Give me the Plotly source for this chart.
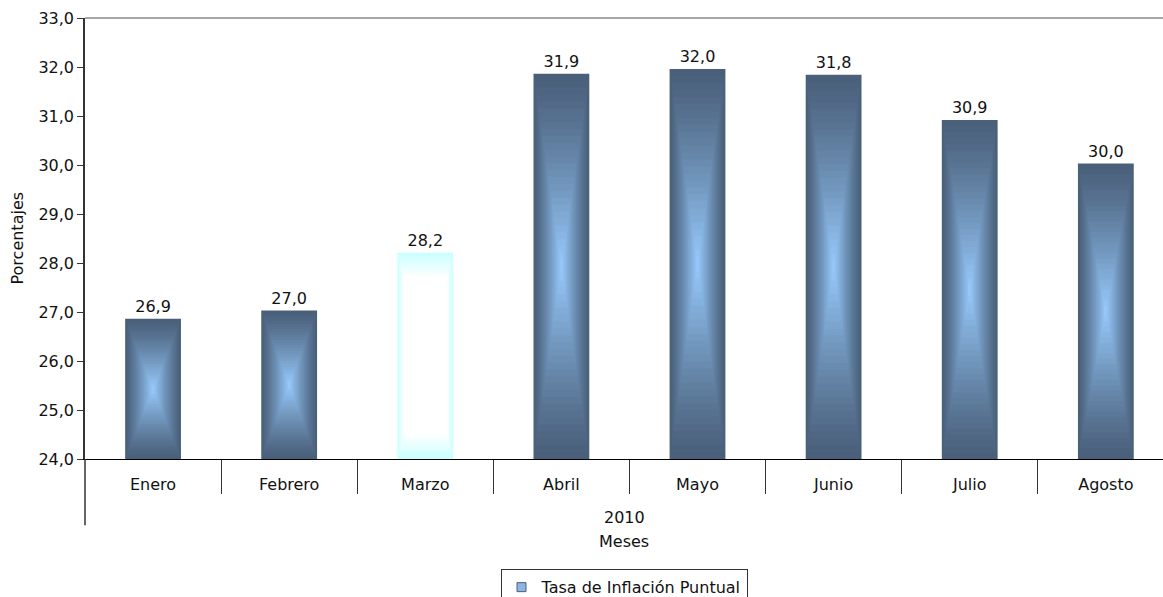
import plotly.graph_objects as go

# ---- data ----
months = ["Enero", "Febrero", "Marzo", "Abril", "Mayo", "Junio", "Julio", "Agosto"]
values = [26.86, 27.03, 28.21, 31.86, 31.96, 31.84, 30.92, 30.03]
year_label = "2010"
series_name = "Tasa de Inflación Puntual"
y_title = "Porcentajes"
x_title = "Meses"

# ---- style ----
Y_MIN, Y_MAX = 24.0, 33.0
BAR_W = 0.41
N_LAYERS = 28
DARK = (74, 96, 122)
LIGHT = (153, 204, 255)
CYAN = (204, 255, 255)
WHITE = (255, 255, 255)
FONT = "Verdana, DejaVu Sans, sans-serif"
FS = 16
highlight = {"Marzo"}


def lerp(c1, c2, f):
    f = max(0.0, min(1.0, f))
    return "rgb(%d,%d,%d)" % tuple(round(a + (b - a) * f) for a, b in zip(c1, c2))


def fmt(v):
    return f"{v:.1f}".replace(".", ",")


fig = go.Figure()

for k in range(N_LAYERS):
    t = k / N_LAYERS
    s = 1 - t
    bases, heights, widths, colors = [], [], [], []
    for m, v in zip(months, values):
        center = (Y_MIN + v) / 2
        half = (v - Y_MIN) / 2
        bases.append(center - half * s)
        heights.append(2 * half * s)
        widths.append(BAR_W * s)
        if m in highlight:
            colors.append(lerp(CYAN, WHITE, t / 0.22))
        else:
            colors.append(lerp(DARK, LIGHT, t ** 1.2))
    kw = {}
    if k == 0:
        kw = dict(text=[fmt(v) for v in values], textposition="outside",
                  textfont=dict(size=FS, color="#111111", family=FONT),
                  cliponaxis=False)
    fig.add_trace(go.Bar(x=months, y=heights, base=bases, width=widths,
                         marker=dict(color=colors, line=dict(width=0)),
                         showlegend=False, hoverinfo="skip", **kw))

# legend-only entry
fig.add_trace(go.Scatter(x=[None], y=[None], mode="markers", name=series_name,
                         marker=dict(symbol="square", size=9, color="#8db4e2",
                                     line=dict(color="#4a6078", width=1))))

rng = [-0.5, 7.42]
boundaries = [i - 0.5 for i in range(1, len(months) + 1)]

fig.update_layout(
    width=1163, height=597,
    margin=dict(l=85, r=0, t=18, b=138, autoexpand=False),
    plot_bgcolor="white", paper_bgcolor="white",
    barmode="overlay",
    separators=",.",
    font=dict(family=FONT, size=FS, color="#111111"),
    xaxis=dict(type="category", range=rng, showgrid=False, showline=True,
               linecolor="black", linewidth=1, ticks="", ticklabelstandoff=11,
               tickfont=dict(size=FS)),
    xaxis2=dict(overlaying="x", anchor="y", side="bottom", type="linear", range=rng,
                tickmode="array", tickvals=boundaries, ticks="outside", ticklen=34,
                tickcolor="#333333", tickwidth=1, showticklabels=False,
                showgrid=False, showline=False, zeroline=False),
    yaxis=dict(range=[Y_MIN, Y_MAX], dtick=1, tickformat=".1f", showgrid=False,
               showline=True, linecolor="#333333", linewidth=1.5, ticks="outside",
               ticklen=6, tickcolor="#333333", zeroline=False,
               tickfont=dict(size=FS)),
    showlegend=True,
    legend=dict(orientation="h", x=0.5, xanchor="center", y=-0.25, yanchor="top",
                bordercolor="#333333", borderwidth=1, font=dict(size=FS),
                itemwidth=30, tracegroupgap=0),
    shapes=[
        dict(type="line", xref="paper", yref="paper", x0=0, x1=1, y0=1, y1=1,
             line=dict(color="#888888", width=1.5)),
        dict(type="line", xref="paper", yref="paper", x0=0, x1=0, y0=0, y1=-0.15,
             line=dict(color="#333333", width=1.5)),
    ],
    annotations=[
        dict(text=y_title, xref="paper", yref="paper", x=0, y=0.5, xshift=-68,
             xanchor="center", yanchor="middle", textangle=-90, showarrow=False,
             font=dict(size=FS)),
        dict(text=year_label, xref="paper", yref="paper", x=0.5, y=0, yshift=-58,
             xanchor="center", yanchor="middle", showarrow=False, font=dict(size=FS)),
        dict(text=x_title, xref="paper", yref="paper", x=0.5, y=0, yshift=-82,
             xanchor="center", yanchor="middle", showarrow=False, font=dict(size=FS)),
    ],
)
# dummy trace to activate xaxis2
fig.add_trace(go.Scatter(x=[None], y=[None], xaxis="x2", yaxis="y", showlegend=False,
                         hoverinfo="skip"))

fig.write_html("out.html")
